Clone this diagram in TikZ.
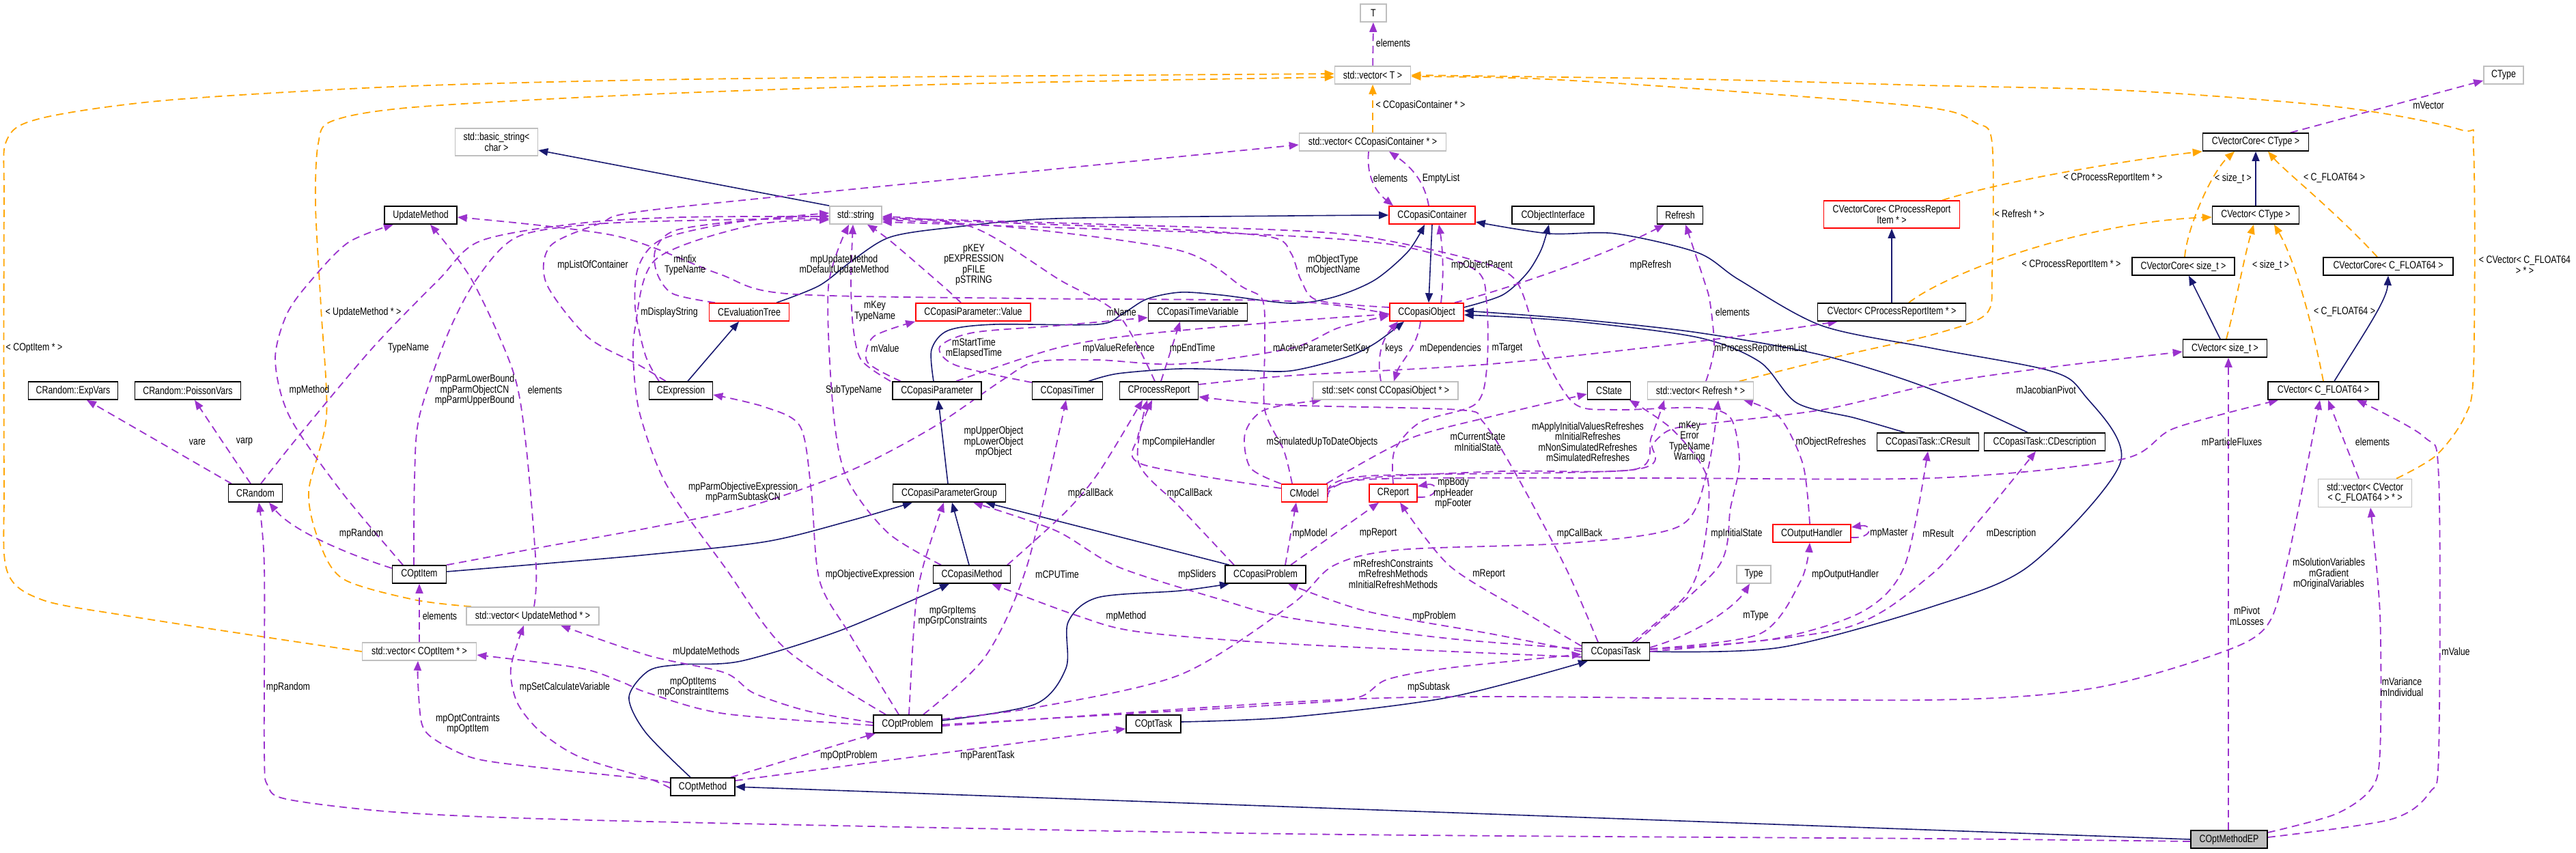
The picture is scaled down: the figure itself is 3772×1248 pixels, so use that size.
\documentclass[tikz,border=0pt]{standalone}
\usepackage{fontspec}
\setmainfont{Liberation Sans}[FakeStretch=0.8]
\usetikzlibrary{arrows.meta}
\pgfdeclarelayer{edges}
\pgfsetlayers{edges,main}
\definecolor{edgenavy}{RGB}{25,25,112}
\definecolor{edgepurple}{RGB}{154,50,205}
\definecolor{edgeorange}{RGB}{255,165,0}
\definecolor{boxgray}{RGB}{191,191,191}

\begin{document}
\begin{tikzpicture}[x=1pt,y=-1pt,
  >={Triangle[length=14pt,width=11pt]},
  every node/.style={font=\fontsize{15.5}{15.5}\selectfont},
  classbox/.style={draw=black, line width=1.6pt, fill=white, minimum height=26pt, inner sep=2pt, align=center},
  extbox/.style={classbox, draw=boxgray},
  truncbox/.style={classbox, draw=red},
  edgelabel/.style={inner sep=0pt, align=center},
  inherit/.style={->, edgenavy, line width=1.6pt},
  assoc/.style={->, edgepurple, line width=1.8pt, dash pattern=on 11pt off 7pt},
  templ/.style={->, edgeorange, line width=1.8pt, dash pattern=on 11pt off 7pt}]
  \useasboundingbox (0,0) rectangle (3772,1248);

  % classes
  \node[extbox, minimum width=38] (T) at (2011,19) {T};
  \node[extbox, minimum width=111] (vecT) at (2010,110) {std::vector< T >};
  \node[extbox, minimum width=58] (CType) at (3666,110) {CType};
  \node[extbox, minimum width=215] (vecCC) at (2010,208) {std::vector< CCopasiContainer * >};
  \node[extbox, minimum width=121, minimum height=40] (bstr) at (727,208) {std::basic\_string<\\char >};
  \node[classbox, minimum width=155] (coreCType) at (3303,208) {CVectorCore< CType >};
  \node[classbox, minimum width=106] (UpdateMethod) at (616,315) {UpdateMethod};
  \node[extbox, minimum width=76] (string) at (1253,315) {std::string};
  \node[truncbox, minimum width=126] (CCopasiContainer) at (2097,315) {CCopasiContainer};
  \node[classbox, minimum width=120] (CObjectInterface) at (2274,315) {CObjectInterface};
  \node[classbox, minimum width=67] (Refresh) at (2460,315) {Refresh};
  \node[truncbox, minimum width=199, minimum height=40] (corePRI) at (2770,314) {CVectorCore< CProcessReport\\Item * >};
  \node[classbox, minimum width=127] (vCType) at (3303,315) {CVector< CType >};
  \node[truncbox, minimum width=117] (CEvaluationTree) at (1097,457) {CEvaluationTree};
  \node[truncbox, minimum width=168] (CCPValue) at (1425,457) {CCopasiParameter::Value};
  \node[classbox, minimum width=145] (CCopasiTimeVariable) at (1754,457) {CCopasiTimeVariable};
  \node[truncbox, minimum width=108] (CCopasiObject) at (2089,457) {CCopasiObject};
  \node[classbox, minimum width=217] (vPRI) at (2770,457) {CVector< CProcessReportItem * >};
  \node[classbox, minimum width=150] (coreSize) at (3197,390) {CVectorCore< size\_t >};
  \node[classbox, minimum width=190] (coreF64) at (3497,390) {CVectorCore< C\_FLOAT64 >};
  \node[classbox, minimum width=131] (ExpVars) at (107,572) {CRandom::ExpVars};
  \node[classbox, minimum width=155] (PoissonVars) at (275,572) {CRandom::PoissonVars};
  \node[classbox, minimum width=93] (CExpression) at (997,572) {CExpression};
  \node[classbox, minimum width=130] (CCopasiParameter) at (1372,572) {CCopasiParameter};
  \node[classbox, minimum width=103] (CCopasiTimer) at (1563,572) {CCopasiTimer};
  \node[classbox, minimum width=115] (CProcessReport) at (1697,572) {CProcessReport};
  \node[extbox, minimum width=212] (setObj) at (2029,572) {std::set< const CCopasiObject * >};
  \node[classbox, minimum width=63] (CState) at (2356,572) {CState};
  \node[extbox, minimum width=155] (vecRefresh) at (2490,572) {std::vector< Refresh * >};
  \node[classbox, minimum width=123] (vSize) at (3258,510) {CVector< size\_t >};
  \node[classbox, minimum width=162] (vF64) at (3402,572) {CVector< C\_FLOAT64 >};
  \node[classbox, minimum width=149] (CResult) at (2823,647) {CCopasiTask::CResult};
  \node[classbox, minimum width=177] (CDescription) at (2994,647) {CCopasiTask::CDescription};
  \node[classbox, minimum width=79] (CRandom) at (374,722) {CRandom};
  \node[classbox, minimum width=165] (CCPGroup) at (1390,722) {CCopasiParameterGroup};
  \node[truncbox, minimum width=67] (CModel) at (1910,722) {CModel};
  \node[truncbox, minimum width=70] (CReport) at (2040,722) {CReport};
  \node[truncbox, minimum width=114] (COutputHandler) at (2653,781) {COutputHandler};
  \node[extbox, minimum width=137, minimum height=41] (vecVF64) at (3463,722) {std::vector< CVector\\< C\_FLOAT64 > * >};
  \node[classbox, minimum width=79] (COptItem) at (614,841) {COptItem};
  \node[extbox, minimum width=194] (vecUM) at (780,902) {std::vector< UpdateMethod * >};
  \node[classbox, minimum width=113] (CCopasiMethod) at (1423,841) {CCopasiMethod};
  \node[classbox, minimum width=118] (CCopasiProblem) at (1853,841) {CCopasiProblem};
  \node[extbox, minimum width=50] (Type) at (2568,841) {Type};
  \node[extbox, minimum width=167] (vecOI) at (614,954) {std::vector< COptItem * >};
  \node[classbox, minimum width=99] (CCopasiTask) at (2366,954) {CCopasiTask};
  \node[classbox, minimum width=100] (COptProblem) at (1329,1060) {COptProblem};
  \node[classbox, minimum width=80] (COptTask) at (1689,1060) {COptTask};
  \node[classbox, minimum width=94] (COptMethod) at (1029,1152) {COptMethod};
  \node[classbox, minimum width=112, fill=boxgray] (COptMethodEP) at (3264,1229) {COptMethodEP};

  \begin{pgfonlayer}{edges}
  % template instances
  \draw[templ] (vecCC) -- (vecT);
  \draw[templ] plot[smooth] coordinates {(vecOI.west) (376,931) (182,901) (61,878) (10,835) (6,700) (6,300) (10,205) (61,173) (242,147) (576,127) (950,117) (1400,112) ([yshift=2]vecT.west)};
  \draw[templ] plot[smooth] coordinates {([xshift=-90]vecUM.north) (606,878) (503,848) (468,795) (452,720) (478,610) (470,450) (462,300) (466,210) (487,177) (606,157) (950,138) (1400,123) ([yshift=-3]vecT.west)};
  \draw[templ] plot[smooth] coordinates {([xshift=57]vecRefresh.north) (2700,520) (2830,490) (2908,460) (2917,400) (2917,210) (2893,180) (2820,157) (2486,130) (2244,115) ([yshift=-2]vecT.east)};
  \draw[templ] plot[smooth] coordinates {([xshift=46]vecVF64.north) (3567,667) (3609,610) (3622,540) (3622,220) (3603,190) (3427,157) (3123,133) (2820,125) (2486,116) (vecT.east)};
  \draw[templ] ([xshift=2]coreSize.north) .. controls (3203,330) and (3240,250) .. ([xshift=-31]coreCType.south);
  \draw[templ] ([xshift=-16]coreF64.north) .. controls (3420,310) and (3345,250) .. ([xshift=18]coreCType.south);
  \draw[templ] ([xshift=74]corePRI.north) .. controls (2950,260) and (3150,230) .. (coreCType.south west);
  \draw[templ] ([xshift=25]vPRI.north) .. controls (2850,400) and (3050,325) .. ([yshift=-3]vCType.west);
  \draw[templ] ([xshift=2]vSize.north) .. controls (3275,440) and (3285,380) .. ([xshift=-3]vCType.south);
  \draw[templ] (vF64.north) .. controls (3385,470) and (3360,380) .. ([xshift=27]vCType.south);

  % inheritance
  \draw[inherit] (string.north west) -- ([yshift=-12]bstr.east);
  \draw[inherit] (CCopasiContainer.south) -- ([xshift=3]CCopasiObject.north);
  \draw[inherit] plot[smooth] coordinates {([yshift=7]CCopasiObject.east) (2200,432) (2236,400) (2257,365) ([xshift=-6]CObjectInterface.south)};
  \draw[inherit] plot[smooth] coordinates {([xshift=40]CEvaluationTree.north) (1200,418) (1250,380) (1304,347) (1394,333) (1546,320) (1890,316) (CCopasiContainer.west)};
  \draw[inherit] ([xshift=10]CExpression.north) -- ([xshift=-15]CEvaluationTree.south);
  \draw[inherit] plot[smooth] coordinates {([xshift=-5]CCopasiParameter.north) (1364,512) (1388,484) (1455,475) (1607,475) (1643,460) (1679,438) (1728,428) (1788,432) (1890,444) (1953,435) (2013,410) (2062,368) ([xshift=-11]CCopasiContainer.south)};
  \draw[inherit] plot[smooth] coordinates {([xshift=31]CCopasiTimer.north) (1637,547) (1728,540) (1819,542) (1890,543) (1971,523) (2013,503) ([xshift=-33]CCopasiObject.south)};
  \draw[inherit] ([xshift=-2]CCPGroup.north) -- ([xshift=2]CCopasiParameter.south);
  \draw[inherit] plot[smooth] coordinates {([yshift=4]COptItem.east) (800,825) (950,812) (1122,793) (1243,763) ([xshift=-54]CCPGroup.south)};
  \draw[inherit] ([xshift=-4]CCopasiMethod.north) -- ([xshift=4]CCPGroup.south);
  \draw[inherit] ([xshift=-53]CCopasiProblem.north) -- ([xshift=53]CCPGroup.south);
  \draw[inherit] plot[smooth] coordinates {([xshift=-18]COptMethod.north) (945,1072) (921,1021) (950,982) (998,973) (1085,968) (1231,923) ([xshift=-33]CCopasiMethod.south)};
  \draw[inherit] plot[smooth] coordinates {([yshift=5]COptProblem.east) (1516,1031) (1561,978) (1564,911) (1607,875) (1728,865) ([xshift=-53]CCopasiProblem.south)};
  \draw[inherit] plot[smooth] coordinates {([yshift=3]COptTask.east) (1890,1050) (2122,1021) ([xshift=-41]CCopasiTask.south)};
  \draw[inherit] (COptMethodEP.west) -- (COptMethod.east);
  \draw[inherit] plot[smooth] coordinates {(CCopasiTask.east) (2607,948) (2830,888) (2972,828) (3105,677) (3051,577) (3002,543) (2830,510) (2668,477) (2547,410) (2486,370) (2365,342) (2268,342) ([yshift=-10]CCopasiContainer.east)};
  \draw[inherit] plot[smooth] coordinates {([xshift=-34]CResult.north) (2716,612) (2631,590) (2577,530) (2486,494) (2300,470) ([yshift=-4]CCopasiObject.east)};
  \draw[inherit] plot[smooth] coordinates {([xshift=-25]CDescription.north) (2820,567) (2668,520) (2486,487) (2304,467) ([yshift=2]CCopasiObject.east)};
  \draw[inherit] (vPRI) -- (corePRI);
  \draw[inherit] (vCType) -- (coreCType);
  \draw[inherit] ([xshift=-7]vSize.north) -- ([xshift=8]coreSize.south);
  \draw[inherit] ([xshift=16]vF64.north) .. controls (3460,490) and (3495,440) .. (coreF64.south);

  % usage
  \draw[assoc] (vecT) -- (T);
  \draw[assoc] ([xshift=-6]vecCC.south) .. controls (2000,265) and (2020,285) .. ([xshift=-57]CCopasiContainer.north);
  \draw[assoc] ([xshift=-5]CCopasiContainer.north) .. controls (2085,260) and (2060,240) .. ([xshift=24]vecCC.south);
  \draw[assoc] ([xshift=51]coreCType.north) -- ([yshift=-8]CType.west);
  \draw[assoc] plot[smooth] coordinates {([xshift=-22]CExpression.north) (933,533) (860,493) (800,415) (806,360) (879,327) (950,308) (1400,262) ([yshift=-4]vecCC.west)};
  \draw[assoc] plot[smooth] coordinates {([xshift=-24]COptItem.north) (500,720) (424,610) (403,527) (420,460) (456,410) (510,355) ([xshift=-40]UpdateMethod.south)};
  \draw[assoc] plot[smooth] coordinates {([xshift=8]CRandom.north) (436,640) (545,510) (642,410) (703,353) (848,327) (1000,318) ([yshift=-2]string.west)};
  \draw[assoc] plot[smooth] coordinates {([xshift=-8]COptItem.north) (607,700) (614,610) (654,493) (697,410) (757,347) (873,328) (1050,322) ([yshift=-5]string.west)};
  \draw[assoc] plot[smooth] coordinates {([xshift=2]vecUM.north) (785,830) (770,650) (751,543) (691,410) ([xshift=14]UpdateMethod.south)};
  \draw[assoc] ([xshift=-35]CRandom.north) -- ([xshift=20]ExpVars.south);
  \draw[assoc] ([xshift=-7]CRandom.north) -- ([xshift=10]PoissonVars.south);
  \draw[assoc] ([yshift=9]COptItem.west) .. controls (520,815) and (430,780) .. ([xshift=20]CRandom.south);
  \draw[assoc] plot[smooth] coordinates {([yshift=-3]COptMethodEP.west) (2830,1228) (1890,1221) (950,1203) (606,1191) (424,1171) (392,1150) (387,1100) (387,830) ([xshift=5]CRandom.south)};
  \draw[assoc] plot[smooth] coordinates {([yshift=6]COptMethod.west) (940,1140) (800,1125) (697,1111) (640,1085) (618,1061) (612,1000) ([xshift=-2]vecOI.south)};
  \draw[assoc] plot[smooth] coordinates {([yshift=-2]COptMethod.west) (950,1140) (848,1108) (790,1070) (757,1028) (748,978) ([xshift=-13]vecUM.south)};
  \draw[assoc] (vecOI) -- (COptItem);
  \draw[assoc] plot[smooth] coordinates {([yshift=2]COptProblem.west) (1182,1041) (1104,1015) (1061,985) (950,960) ([xshift=41]vecUM.south)};
  \draw[assoc] plot[smooth] coordinates {([yshift=-2]COptProblem.west) (1061,1045) (950,1015) (909,998) (848,978) ([yshift=-5]vecOI.east)};
  \draw[assoc] ([xshift=41]COptMethod.north) -- ([xshift=-47]COptProblem.south);
  \draw[assoc] ([yshift=9]COptMethod.east) -- ([yshift=-7]COptTask.west);
  \draw[assoc] plot[smooth] coordinates {([xshift=2]COptProblem.north) (1340,895) (1352,828) ([xshift=-8]CCPGroup.south)};
  \draw[assoc] plot[smooth] coordinates {([xshift=-13]COptProblem.north) (1245,930) (1200,850) (1188,720) (1172,625) (1120,596) ([yshift=-6]CExpression.east)};
  \draw[assoc] plot[smooth] coordinates {([xshift=-32]COptProblem.north) (1150,950) (1061,830) (976,710) (938,610) (928,540) (930,480) (960,380) (1100,330) ([yshift=-7]string.west)};
  \draw[assoc] plot[smooth] coordinates {(COptItem.north east) (800,800) (950,773) (1092,743) (1243,690) (1364,627) (1467,557) (1516,530) (1607,527) (1728,533) (1890,510) (1960,480) ([yshift=-5]CCopasiObject.west)};
  \draw[assoc] plot[smooth] coordinates {([xshift=23]COptProblem.north) (1443,961) (1504,828) ([xshift=-2]CCopasiTimer.south)};
  \draw[assoc] plot[smooth] coordinates {([yshift=4]CCopasiTask.west) (2122,935) (1890,905) (1788,878) (1637,830) (1546,777) ([xshift=35]CCPGroup.south)};
  \draw[assoc] plot[smooth] coordinates {([yshift=-8]CCopasiTask.west) (1890,943) (1667,925) (1576,901) ([xshift=29]CCopasiMethod.south)};
  \draw[assoc] plot[smooth] coordinates {(CCopasiTask.west) (2183,928) (2001,895) ([xshift=33]CCopasiProblem.south)};
  \draw[assoc] plot[smooth] coordinates {([yshift=7]COptProblem.east) (1516,1036) (1728,988) (1890,886) (1953,828) (2050,805) (2300,795) (2460,770) (2500,690) ([xshift=26]vecRefresh.south)};
  \draw[assoc] plot[smooth] coordinates {([yshift=8]CCopasiTask.west) (2230,895) (2122,828) ([xshift=10]CReport.south)};
  \draw[assoc] ([xshift=37]CCopasiProblem.north) -- ([xshift=-21]CReport.south);
  \draw[assoc] ([xshift=29]CCopasiProblem.north) -- ([xshift=-12]CModel.south);
  \draw[assoc] ([yshift=-6]CReport.east) .. controls (2108,730) and (2108,706) .. ([yshift=10]CReport.east);
  \draw[assoc] ([yshift=-6]COutputHandler.east) .. controls (2743,789) and (2743,767) .. ([yshift=9]COutputHandler.east);
  \draw[assoc] plot[smooth] coordinates {([yshift=4]CCopasiTask.east) (2577,928) (2637,850) ([xshift=-3]COutputHandler.south)};
  \draw[assoc] ([yshift=6]CCopasiTask.east) .. controls (2480,930) and (2540,890) .. ([xshift=-6]Type.south);
  \draw[assoc] plot[smooth] coordinates {([yshift=3]CCopasiTask.east) (2600,935) (2728,895) (2789,828) (CResult.south)};
  \draw[assoc] plot[smooth] coordinates {(CCopasiTask.east) (2700,920) (2826,843) (2900,760) ([xshift=-13]CDescription.south)};
  \draw[assoc] plot[smooth] coordinates {([xshift=24]CCopasiTask.north) (2470,870) (2495,800) (2500,700) (2450,630) ([xshift=30]CState.south)};
  \draw[assoc] plot[smooth] coordinates {([xshift=-2]CModel.north east) (2062,643) (2183,610) ([yshift=-5]CState.west)};
  \draw[assoc] plot[smooth] coordinates {([yshift=6]CModel.east) (2000,700) (2200,690) (2395,687) (2418,640) ([xshift=-53]vecRefresh.south)};
  \draw[assoc] plot[smooth] coordinates {([xshift=29]CCopasiTask.north) (2516,830) (2534,743) (2547,677) (2534,612) (2486,597) (2365,600) (2304,590) (2256,510) (2219,410) (2147,378) (2001,347) (1880,337) (1600,328) ([yshift=-4]string.east)};
  \draw[assoc] plot[smooth] coordinates {([yshift=2]CModel.east) (2001,697) (2390,688) (2420,650) (2444,630) (2486,622) (2668,600) (2830,563) (3000,538) ([yshift=-5]vSize.west)};
  \draw[assoc] plot[smooth] coordinates {([yshift=-6]CModel.east) (2001,702) (2400,700) (2830,700) (3105,673) (3184,627) ([xshift=-66]vF64.south)};
  \draw[assoc] ([xshift=-1]COptMethodEP.north) -- ([xshift=5]vSize.south);
  \draw[assoc] plot[smooth] coordinates {([yshift=-3]COptProblem.east) (1890,1028) (2183,1020) (2820,1025) (3063,1008) (3245,958) (3318,918) (3348,828) ([xshift=-5]vF64.south)};
  \draw[assoc] plot[smooth] coordinates {([yshift=-1]COptProblem.east) (1890,1031) (1989,1021) (2031,995) (2122,978) ([yshift=-4]CCopasiTask.west)};
  \draw[assoc] plot[smooth] coordinates {([yshift=10]COptMethodEP.east) (3420,1192) (3472,1155) (3485,1100) (3485,900) ([xshift=8]vecVF64.south)};
  \draw[assoc] plot[smooth] coordinates {([yshift=3]COptMethodEP.east) (3500,1200) (3558,1160) (3571,1100) (3571,700) (3550,640) ([xshift=49]vF64.south)};
  \draw[assoc] ([xshift=-9]vecVF64.north) -- ([xshift=7]vF64.south);
  \draw[assoc] ([xshift=21]CCopasiObject.north) .. controls (2115,400) and (2112,360) .. ([xshift=10]CCopasiContainer.south);
  \draw[assoc] ([xshift=41]CCopasiObject.north) .. controls (2200,425) and (2350,375) .. ([xshift=-23]Refresh.south);
  \draw[assoc] plot[smooth] coordinates {([xshift=8]vecRefresh.north) (2510,510) (2504,443) (2495,410) ([xshift=8]Refresh.south)};
  \draw[assoc] ([xshift=-9]CCopasiObject.south) .. controls (2075,510) and (2050,530) .. ([xshift=12]setObj.north);
  \draw[assoc] ([xshift=-7]setObj.north) .. controls (2015,520) and (2025,495) .. ([xshift=-42]CCopasiObject.south);
  \draw[assoc] plot[smooth] coordinates {([xshift=-18]CModel.north) (1880,660) (1852,600) (1852,507) (1849,440) (1819,420) (1728,367) (1485,333) ([yshift=-7]string.east)};
  \draw[assoc] plot[smooth] coordinates {(CModel.north west) (1831,685) (1823,635) (1852,600) ([xshift=-94]setObj.south)};
  \draw[assoc] plot[smooth] coordinates {(CReport.north) (2042,660) (2080,618) (2160,592) (2177,540) (2177,445) (2160,395) (2050,360) (1880,345) (1600,335) ([yshift=-10]string.east)};
  \draw[assoc] plot[smooth] coordinates {([yshift=7]CCopasiObject.west) (1930,440) (1905,410) (1890,370) (1860,347) (1700,335) ([yshift=-5]string.east)};
  \draw[assoc] plot[smooth] coordinates {([yshift=-3]CCopasiObject.west) (1890,441) (1500,437) (1152,430) (1050,400) (900,345) ([yshift=-3]UpdateMethod.east)};
  \draw[assoc] plot[smooth] coordinates {([xshift=-18]CCPValue.north) (1382,420) (1304,353) ([xshift=17]string.south)};
  \draw[assoc] plot[smooth] coordinates {([xshift=-6]CProcessReport.north) (1637,460) (1552,410) (1425,333) ([yshift=-2]string.east)};
  \draw[assoc] plot[smooth] coordinates {([xshift=-68]CCopasiParameter.north) (1261,527) (1249,477) (1246,410) ([xshift=-4]string.south)};
  \draw[assoc] plot[smooth] coordinates {([xshift=-53]CCopasiParameter.north) (1270,530) (1279,493) (CCPValue.south west)};
  \draw[assoc] plot[smooth] coordinates {([xshift=-45]CCopasiMethod.north) (1300,780) (1240,700) (1220,600) (1213,420) ([xshift=-10]string.south)};
  \draw[assoc] plot[smooth] coordinates {([xshift=-50]CEvaluationTree.north) (985,430) (962,400) (960,365) (990,337) (1100,322) ([yshift=-1]string.west)};
  \draw[assoc] plot[smooth] coordinates {([xshift=-32]CExpression.north) (945,520) (930,450) (935,390) (970,350) (1080,325) ([yshift=3]string.west)};
  \draw[assoc] plot[smooth] coordinates {([xshift=28]CCopasiParameter.north) (1546,510) (1667,490) (1890,470) ([yshift=-3]CCopasiObject.west)};
  \draw[assoc] ([xshift=3]CProcessReport.north) -- ([xshift=-26]CCopasiTimeVariable.south);
  \draw[assoc] plot[smooth] coordinates {([yshift=12]CCopasiTimer.west) (1400,535) (1376,508) (1425,487) (1546,477) ([yshift=-8]CCopasiTimeVariable.west)};
  \draw[assoc] plot[smooth] coordinates {([yshift=9]CProcessReport.east) (1890,550) (2183,533) (2486,500) ([xshift=30]vPRI.south west)};
  \draw[assoc] plot[smooth] coordinates {([yshift=7]CModel.west) (1673,680) (1666,640) ([xshift=-10]CProcessReport.south)};
  \draw[assoc] plot[smooth] coordinates {([xshift=52]CCopasiMethod.north) (1560,750) (1610,690) ([xshift=-24]CProcessReport.south)};
  \draw[assoc] plot[smooth] coordinates {([xshift=-46]CCopasiProblem.north) (1728,743) (1667,677) ([xshift=-17]CProcessReport.south)};
  \draw[assoc] plot[smooth] coordinates {([xshift=-26]CCopasiTask.north) (2292,830) (2219,693) (2171,617) (2135,600) (1880,593) ([yshift=-9]CProcessReport.east)};
  \draw[assoc] plot[smooth] coordinates {([xshift=-3]COutputHandler.north) (2640,680) (2605,610) ([xshift=63]vecRefresh.south)};
  \end{pgfonlayer}

  % edge labels
  \node[edgelabel] (lElemT) at (2040,63) {elements};
  \node[edgelabel] (lCCont) at (2080,154) {< CCopasiContainer * >};
  \node[edgelabel] (lElemCC) at (2036,261) {elements};
  \node[edgelabel] (lEmpty) at (2110,261) {EmptyList};
  \node[edgelabel] (lVector) at (3556,154) {mVector};
  \node[edgelabel] (lOptItemT) at (50,510) {< COptItem * >};
  \node[edgelabel] (lUMT) at (532,457) {< UpdateMethod * >};
  \node[edgelabel] (lRefT) at (2957,313) {< Refresh * >};
  \node[edgelabel] (lPRIa) at (3094,261) {< CProcessReportItem * >};
  \node[edgelabel] (lSizeA) at (3270,261) {< size\_t >};
  \node[edgelabel] (lF64a) at (3418,261) {< C\_FLOAT64 >};
  \node[edgelabel] (lPRIb) at (3033,388) {< CProcessReportItem * >};
  \node[edgelabel] (lSizeB) at (3325,388) {< size\_t >};
  \node[edgelabel] (lVF64T) at (3697,388) {< CVector< C\_FLOAT64\\> * >};
  \node[edgelabel] (lF64b) at (3433,457) {< C\_FLOAT64 >};
  \node[edgelabel] (lListCont) at (868,388) {mpListOfContainer};
  \node[edgelabel] (lMethod) at (453,571) {mpMethod};
  \node[edgelabel] (lTypeNameR) at (598,510) {TypeName};
  \node[edgelabel] (lParm) at (695,571) {mpParmLowerBound\\mpParmObjectCN\\mpParmUpperBound};
  \node[edgelabel] (lElemUM) at (798,571) {elements};
  \node[edgelabel] (lVare) at (289,647) {vare};
  \node[edgelabel] (lVarp) at (358,647) {varp};
  \node[edgelabel] (lRandomA) at (529,781) {mpRandom};
  \node[edgelabel] (lRandomB) at (422,1006) {mpRandom};
  \node[edgelabel] (lElemOI) at (644,902) {elements};
  \node[edgelabel] (lOptCon) at (685,1060) {mpOptContraints\\mpOptItem};
  \node[edgelabel] (lSetCalc) at (827,1006) {mpSetCalculateVariable};
  \node[edgelabel] (lUpdMeth) at (1034,954) {mUpdateMethods};
  \node[edgelabel] (lOptItems) at (1015,1006) {mpOptItems\\mpConstraintItems};
  \node[edgelabel] (lOptProb) at (1243,1106) {mpOptProblem};
  \node[edgelabel] (lParentTask) at (1446,1106) {mpParentTask};
  \node[edgelabel] (lGrp) at (1395,902) {mpGrpItems\\mpGrpConstraints};
  \node[edgelabel] (lObjExpr) at (1274,841) {mpObjectiveExpression};
  \node[edgelabel] (lCPU) at (1548,841) {mCPUTime};
  \node[edgelabel] (lSliders) at (1753,841) {mpSliders};
  \node[edgelabel] (lMethodT) at (1649,902) {mpMethod};
  \node[edgelabel] (lProblem) at (2100,902) {mpProblem};
  \node[edgelabel] (lRefreshC) at (2040,840) {mRefreshConstraints\\mRefreshMethods\\mInitialRefreshMethods};
  \node[edgelabel] (lReport) at (2180,841) {mReport};
  \node[edgelabel] (lOutH) at (2702,841) {mpOutputHandler};
  \node[edgelabel] (lType) at (2571,902) {mType};
  \node[edgelabel] (lSubtask) at (2092,1006) {mpSubtask};
  \node[edgelabel] (lpReport) at (2018,781) {mpReport};
  \node[edgelabel] (lModel) at (1918,781) {mpModel};
  \node[edgelabel] (lBody) at (2128,722) {mpBody\\mpHeader\\mpFooter};
  \node[edgelabel] (lMaster) at (2766,781) {mpMaster};
  \node[edgelabel] (lCallBackC) at (2313,781) {mpCallBack};
  \node[edgelabel] (lInitState) at (2543,781) {mpInitialState};
  \node[edgelabel] (lResult) at (2838,781) {mResult};
  \node[edgelabel] (lDescr) at (2945,781) {mDescription};
  \node[edgelabel] (lCurState) at (2164,647) {mCurrentState\\mInitialState};
  \node[edgelabel] (lApply) at (2325,647) {mApplyInitialValuesRefreshes\\mInitialRefreshes\\mNonSimulatedRefreshes\\mSimulatedRefreshes};
  \node[edgelabel] (lKeyErr) at (2474,647) {mKey\\Error\\TypeName\\Warning};
  \node[edgelabel] (lObjRef) at (2681,647) {mObjectRefreshes};
  \node[edgelabel] (lJacob) at (2996,571) {mJacobianPivot};
  \node[edgelabel] (lFlux) at (3268,647) {mParticleFluxes};
  \node[edgelabel] (lElemVF) at (3474,647) {elements};
  \node[edgelabel] (lSolVar) at (3410,840) {mSolutionVariables\\mGradient\\mOriginalVariables};
  \node[edgelabel] (lPivot) at (3290,902) {mPivot\\mLosses};
  \node[edgelabel] (lVarInd) at (3517,1006) {mVariance\\mIndividual};
  \node[edgelabel] (lValue) at (3596,954) {mValue};
  \node[edgelabel] (lUpperObj) at (1455,647) {mpUpperObject\\mpLowerObject\\mpObject};
  \node[edgelabel] (lParmObj) at (1088,721) {mpParmObjectiveExpression\\mpParmSubtaskCN};
  \node[edgelabel] (lCompile) at (1726,647) {mpCompileHandler};
  \node[edgelabel] (lSimUp) at (1936,647) {mSimulatedUpToDateObjects};
  \node[edgelabel] (lCallBackA) at (1597,722) {mpCallBack};
  \node[edgelabel] (lCallBackB) at (1742,722) {mpCallBack};
  \node[edgelabel] (lValRef) at (1638,510) {mpValueReference};
  \node[edgelabel] (lEndTime) at (1746,510) {mpEndTime};
  \node[edgelabel] (lActive) at (1935,510) {mActiveParameterSetKey};
  \node[edgelabel] (lKeys) at (2041,510) {keys};
  \node[edgelabel] (lDepend) at (2124,510) {mDependencies};
  \node[edgelabel] (lTarget) at (2207,510) {mTarget};
  \node[edgelabel] (lPRIList) at (2578,510) {mProcessReportItemList};
  \node[edgelabel] (lElemRef) at (2537,457) {elements};
  \node[edgelabel] (lStart) at (1426,510) {mStartTime\\mElapsedTime};
  \node[edgelabel] (lName) at (1642,457) {mName};
  \node[edgelabel] (lKeyTN) at (1281,456) {mKey\\TypeName};
  \node[edgelabel] (lValueP) at (1296,510) {mValue};
  \node[edgelabel] (lSubType) at (1250,571) {SubTypeName};
  \node[edgelabel] (lDisp) at (980,457) {mDisplayString};
  \node[edgelabel] (lInfix) at (1003,388) {mInfix\\TypeName};
  \node[edgelabel] (lUpdM) at (1236,388) {mpUpdateMethod\\mDefaultUpdateMethod};
  \node[edgelabel] (lPKey) at (1426,388) {pKEY\\pEXPRESSION\\pFILE\\pSTRING};
  \node[edgelabel] (lObjType) at (1952,388) {mObjectType\\mObjectName};
  \node[edgelabel] (lParent) at (2170,388) {mpObjectParent};
  \node[edgelabel] (lRefresh) at (2417,388) {mpRefresh};
\end{tikzpicture}
\end{document}
